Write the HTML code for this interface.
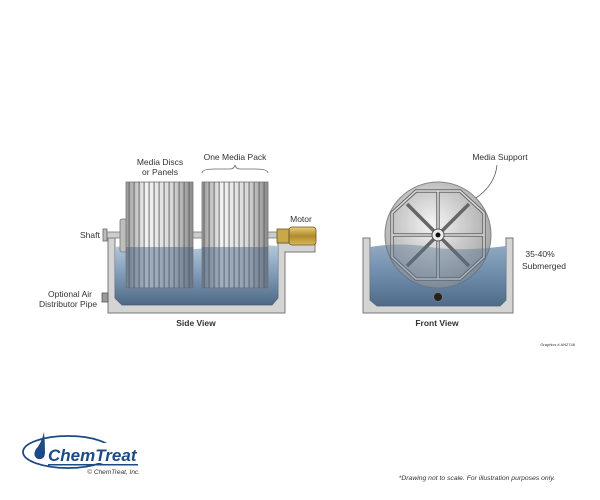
<!DOCTYPE html>
<html><head><meta charset="utf-8"><style>
html,body{margin:0;padding:0;background:#fff}
svg{display:block}
text{font-family:"Liberation Sans",sans-serif;fill:#333}
</style></head><body>
<svg width="600" height="500" viewBox="0 0 600 500" xmlns="http://www.w3.org/2000/svg">
<defs>
<linearGradient id="water" x1="0" y1="0" x2="0" y2="1">
<stop offset="0" stop-color="#aec3d8"/><stop offset="0.5" stop-color="#6f8fb0"/><stop offset="1" stop-color="#3b5878"/>
</linearGradient>
<linearGradient id="drum" x1="0" y1="0" x2="1" y2="0">
<stop offset="0" stop-color="#9a9a9a"/><stop offset="0.3" stop-color="#f2f2f2"/><stop offset="0.7" stop-color="#d8d8d8"/><stop offset="1" stop-color="#8a8a8a"/>
</linearGradient>
<pattern id="stripes" width="5" height="10" patternUnits="userSpaceOnUse">
<rect width="5" height="10" fill="none"/><rect x="3.5" width="1.2" height="10" fill="#555" opacity="0.7"/>
</pattern>
<radialGradient id="wheel" cx="0.45" cy="0.4" r="0.6">
<stop offset="0" stop-color="#f4f4f4"/><stop offset="1" stop-color="#9c9c9c"/>
</radialGradient>
<linearGradient id="motor" x1="0" y1="0" x2="0" y2="1">
<stop offset="0" stop-color="#e8cf7a"/><stop offset="0.5" stop-color="#b08a2a"/><stop offset="1" stop-color="#d9b85a"/>
</linearGradient>
</defs>

<!-- SIDE VIEW -->
<!-- tank -->
<path d="M108,238 H115 V298 L122,305 H270 L277,298 V252 H315 V243 H285 V238 H278 V243 ..." fill="none"/>
<path d="M108,238 H115 V300 L122,306 H272 L279,300 V252 H315 V243 H279 V243 H272 V250" fill="none"/>
<path d="M108,238 V313 H285 V252 H315 V243 H278 V298 L272,305 H122 L115,298 V238 Z" fill="#d4d4d4" stroke="#777" stroke-width="1"/>
<!-- water -->
<path d="M115,247 Q140,243 165,247 T215,247 T278,246 V298 L272,305 H122 L115,298 Z" fill="url(#water)" opacity="0.9"/>
<!-- shaft -->
<rect x="105" y="232" width="175" height="6" fill="#ccc" stroke="#777" stroke-width="0.8"/>
<rect x="103" y="229" width="4" height="12" fill="#bbb" stroke="#666" stroke-width="0.8"/>
<rect x="120" y="219" width="7" height="33" rx="2" fill="#bdbdbd" stroke="#777" stroke-width="0.8"/>
<!-- drums -->
<g>
<rect x="126" y="182" width="67" height="106" fill="url(#drum)" stroke="#777" stroke-width="0.8"/>
<rect x="126" y="182" width="67" height="106" fill="url(#stripes)"/>
<rect x="202" y="182" width="66" height="106" fill="url(#drum)" stroke="#777" stroke-width="0.8"/>
<rect x="202" y="182" width="66" height="106" fill="url(#stripes)"/>
<rect x="126" y="247" width="67" height="41" fill="#3f5d80" opacity="0.45"/>
<rect x="202" y="247" width="66" height="41" fill="#3f5d80" opacity="0.45"/>
</g>
<!-- motor -->
<rect x="277" y="229" width="12" height="14" fill="#c9a84a" stroke="#6b5520" stroke-width="0.8"/>
<rect x="289" y="227" width="27" height="18" rx="3" fill="url(#motor)" stroke="#6b5520" stroke-width="0.8"/>
<!-- air pipe -->
<rect x="102" y="293" width="6" height="9" fill="#999" stroke="#555" stroke-width="0.8"/>

<text x="160" y="165" font-size="8.5" text-anchor="middle">Media Discs</text>
<text x="160" y="175" font-size="8.5" text-anchor="middle">or Panels</text>
<text x="235" y="160" font-size="8.5" text-anchor="middle">One Media Pack</text>
<path d="M202,173 Q202,169 215,169 L230,169 Q234,169 235,165 Q236,169 240,169 L255,169 Q268,169 268,173" fill="none" stroke="#666" stroke-width="0.8"/>
<text x="80" y="238" font-size="8.5">Shaft</text>
<text x="301" y="222" font-size="8.5" text-anchor="middle">Motor</text>
<text x="70" y="297" font-size="8.5" text-anchor="middle">Optional Air</text>
<text x="68" y="307" font-size="8.5" text-anchor="middle">Distributor Pipe</text>
<text x="196" y="326" font-size="8.5" font-weight="bold" text-anchor="middle">Side View</text>

<!-- FRONT VIEW -->
<path d="M363,238 H370 V300 L377,306 H500 L506,300 V238 H513 V313 H363 Z" fill="#d4d4d4" stroke="#777" stroke-width="1"/>
<path d="M370,247 Q400,242 430,247 T506,246 V300 L500,306 H377 L370,300 Z" fill="url(#water)" opacity="0.9"/>
<circle cx="438" cy="235" r="53" fill="url(#wheel)" stroke="#777" stroke-width="1" opacity="0.9"/>
<g stroke="#666" stroke-width="3.5" fill="none">
<polygon points="416,191 460,191 484,213 484,257 460,279 416,279 392,257 392,213"/>
<line x1="438" y1="191" x2="438" y2="279"/><line x1="392" y1="235" x2="484" y2="235"/>
<line x1="407" y1="204" x2="469" y2="266"/><line x1="469" y1="204" x2="407" y2="266"/>
</g>
<g stroke="#ddd" stroke-width="1.5" fill="none">
<polygon points="416,191 460,191 484,213 484,257 460,279 416,279 392,257 392,213"/>
<line x1="438" y1="191" x2="438" y2="279"/><line x1="392" y1="235" x2="484" y2="235"/>
</g>
<circle cx="438" cy="235" r="6" fill="#eee" stroke="#555"/>
<circle cx="438" cy="235" r="2.5" fill="#111"/>
<path d="M370,247 Q400,242 430,247 T506,246 V300 L500,306 H377 L370,300 Z" fill="#4f6f93" opacity="0.35"/>
<circle cx="438" cy="297" r="4.5" fill="#222" stroke="#777"/>
<path d="M497,165 Q495,185 476,198" fill="none" stroke="#555" stroke-width="0.8"/>
<text x="500" y="160" font-size="8.5" text-anchor="middle">Media Support</text>
<text x="540" y="257" font-size="8.5" text-anchor="middle">35-40%</text>
<text x="544" y="269" font-size="8.5" text-anchor="middle">Submerged</text>
<text x="437" y="326" font-size="8.5" font-weight="bold" text-anchor="middle">Front View</text>
<text x="575" y="346" font-size="4" text-anchor="end" fill="#777">Graphics # AN2748</text>

<!-- LOGO -->
<ellipse cx="68" cy="452" rx="45" ry="16" fill="none" stroke="#1c4a85" stroke-width="1.8"/>
<rect x="48" y="443" width="92" height="20" fill="#fff"/>
<path d="M44,432 Q41,444 36,449 Q32,456 38,459 Q45,460 45,452 Q45,442 44,432 Z" fill="#1c4a85"/>
<text x="48" y="461" font-size="17" font-weight="bold" font-style="italic" style="fill:#1c4a85">ChemTreat</text>
<rect x="48" y="464" width="90" height="1.5" fill="#1c4a85"/>
<text x="140" y="474" font-size="6.5" font-style="italic" text-anchor="end" fill="#555">© ChemTreat, Inc.</text>
<text x="555" y="480" font-size="6.8" font-style="italic" text-anchor="end" fill="#444">*Drawing not to scale. For illustration purposes only.</text>
</svg>
</body></html>
